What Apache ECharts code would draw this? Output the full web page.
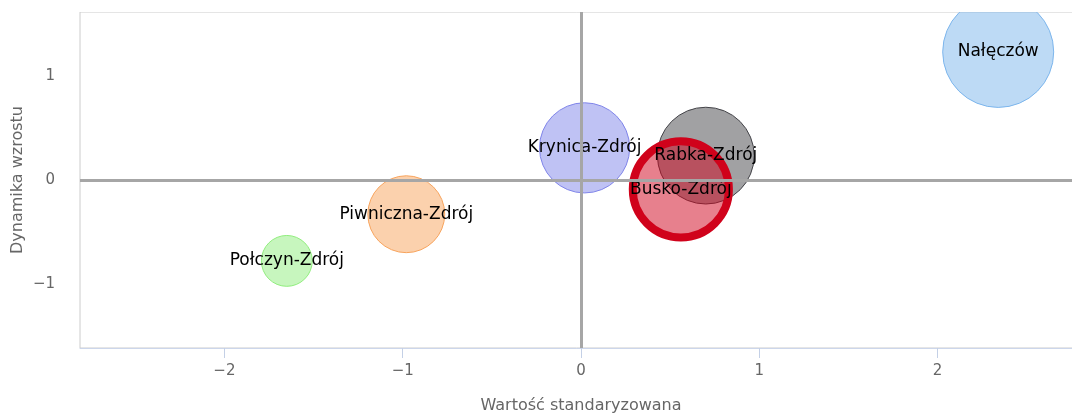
<!DOCTYPE html>
<html>
<head>
<meta charset="utf-8">
<script src="https://cdn.jsdelivr.net/npm/echarts@6/dist/echarts.min.js"></script>
<style>
  html, body { margin: 0; padding: 0; background: #fff; }
  #chart { width: 1072px; height: 414px; }
</style>
</head>
<body>
<div id="chart"></div>
<script>
// bubble data
const cities = ['Połczyn-Zdrój', 'Piwniczna-Zdrój', 'Krynica-Zdrój', 'Rabka-Zdrój', 'Busko-Zdrój', 'Nałęczów']
const xValues = [-1.65, -0.98, 0.02, 0.70, 0.56, 2.34]
const yValues = [-0.78, -0.33, 0.31, 0.235, -0.09, 1.235]
const zValues = [21, 48, 66, 76, 75, 100]

const xTicks = [-2, -1, 0, 1, 2]
const yTicks = [-1, 0, 1]

const colors = ['#90ed7d', '#f7a35c', '#8085e9', '#434348', '#d0021b', '#7cb5ec']
const highlighted = 'Busko-Zdrój'

const chart = echarts.init(document.getElementById('chart'))

const maxZ = Math.max(...zValues)
const sizeOf = (z) => 111 * Math.sqrt(z / maxZ)

const hexToRgba = (hex, a) => {
  const n = parseInt(hex.slice(1), 16)
  return `rgba(${(n >> 16) & 255},${(n >> 8) & 255},${n & 255},${a})`
}

const bubbles = cities.map((name, i) => {
  const isHi = name === highlighted
  return {
    name,
    value: [xValues[i], yValues[i], zValues[i]],
    symbolSize: sizeOf(zValues[i]),
    itemStyle: {
      color: hexToRgba(colors[i], 0.5),
      borderColor: colors[i],
      borderWidth: isHi ? 8 : 1,
      opacity: 1
    }
  }
})

const labelFont = 'DejaVu Sans, sans-serif'
const minus = (v) => String(v).replace('-', '−')

const option = {
  animation: false,
  grid: {
    left: 80,
    top: 12,
    width: 1002,
    height: 336,
    outerBoundsMode: 'none',
    containLabel: false,
    show: true,
    borderColor: '#cccccc',
    borderWidth: 1,
    backgroundColor: 'transparent'
  },
  xAxis: {
    type: 'value',
    min: -2.81,
    max: 2.81,
    name: 'Wartość standaryzowana',
    nameLocation: 'middle',
    nameGap: 50,
    nameTextStyle: { color: '#666', fontSize: 16, fontFamily: labelFont },
    axisLine: { show: true, onZero: false, lineStyle: { color: '#ccd6eb', width: 1 } },
    axisTick: { show: true, length: 10, inside: false, customValues: xTicks, lineStyle: { color: '#c4d0e6', width: 1 } },
    axisLabel: {
      color: '#666', fontSize: 15, fontFamily: labelFont, margin: 16,
      customValues: xTicks,
      formatter: minus
    },
    splitLine: { show: false }
  },
  yAxis: {
    type: 'value',
    min: -1.62,
    max: 1.62,
    name: 'Dynamika wzrostu',
    nameLocation: 'middle',
    nameGap: 54,
    nameMoveOverlap: false,
    nameTextStyle: { color: '#666', fontSize: 16, fontFamily: labelFont },
    axisLine: { show: false },
    axisTick: { show: false },
    axisLabel: {
      color: '#666', fontSize: 15, fontFamily: labelFont, margin: 25,
      customValues: yTicks,
      formatter: minus
    },
    splitLine: { show: false }
  },
  series: [
    {
      // zero lines behind the bubbles
      type: 'scatter',
      data: [],
      z: 1,
      silent: true,
      markLine: {
        silent: true,
        symbol: 'none',
        label: { show: false },
        lineStyle: { color: '#a6a6a6', width: 3, type: 'solid' },
        data: [{ xAxis: 0 }, { yAxis: 0 }]
      }
    },
    {
      type: 'scatter',
      z: 2,
      data: bubbles,
      label: {
        show: true,
        position: 'inside',
        formatter: (p) => p.name,
        color: '#000',
        fontSize: 17,
        fontFamily: labelFont
      },
      emphasis: { disabled: true }
    }
  ],
  graphic: [
    {
      // clip the bubble that spills above the plot area
      type: 'rect',
      left: 0,
      top: 0,
      z: 100,
      shape: { width: 1072, height: 12 },
      style: { fill: '#fff' }
    }
  ]
}

chart.setOption(option)
</script>
</body>
</html>
